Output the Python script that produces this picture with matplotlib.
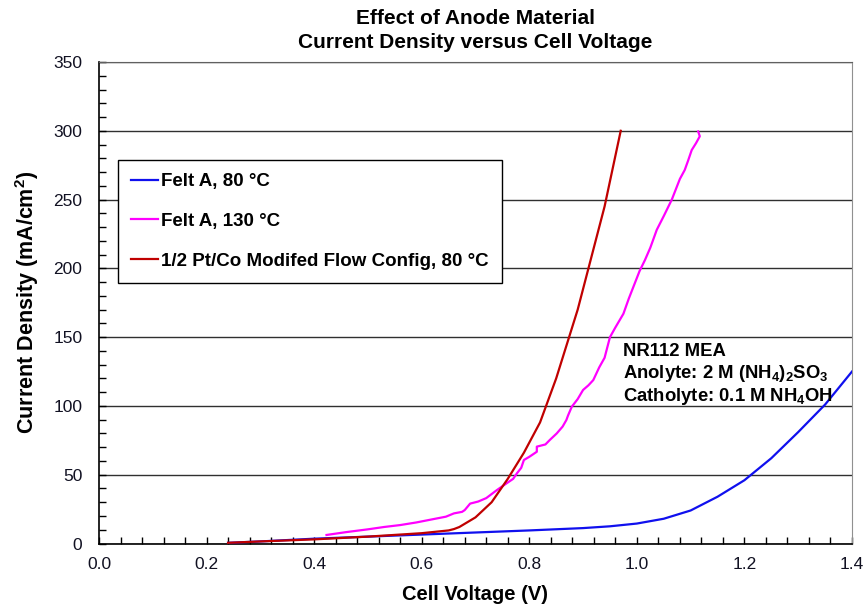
import matplotlib
matplotlib.use("Agg")
import matplotlib.pyplot as plt
from matplotlib.ticker import MultipleLocator

plt.rcParams['font.family'] = ['Liberation Sans', 'DejaVu Sans']
plt.rcParams['mathtext.fontset'] = 'custom'
plt.rcParams['mathtext.rm'] = 'Liberation Sans:bold'
plt.rcParams['mathtext.it'] = 'Liberation Sans:bold'
plt.rcParams['mathtext.bf'] = 'Liberation Sans:bold'

# ---- data ----
blue_v = [0.24, 0.30, 0.40, 0.50, 0.60, 0.70, 0.80, 0.90, 0.95, 1.00, 1.05, 1.10,
          1.15, 1.20, 1.25, 1.30, 1.35, 1.40]
blue_j = [0.5, 1.5, 3.5, 5.0, 6.5, 8.0, 9.5, 11.2, 12.5, 14.5, 18.0, 24.0,
          34.0, 46.0, 62.0, 81.0, 101.0, 125.0]

magenta_v = [0.423, 0.46, 0.50, 0.53, 0.56, 0.59, 0.62, 0.645, 0.66, 0.675, 0.68, 0.69,
             0.705, 0.72, 0.74, 0.758, 0.77, 0.777, 0.785, 0.79, 0.80, 0.814, 0.814,
             0.83, 0.838, 0.851, 0.862, 0.869, 0.872, 0.879, 0.89, 0.900, 0.91, 0.919,
             0.93, 0.94, 0.950, 0.96, 0.975, 0.985, 0.996, 1.005, 1.015, 1.025, 1.037,
             1.05, 1.065, 1.074, 1.08, 1.089, 1.095, 1.102, 1.11, 1.117, 1.114]
magenta_j = [6.2, 8.3, 10.3, 12.0, 13.4, 15.3, 17.6, 19.5, 21.9, 23.0, 24.3, 29.0,
             30.5, 33.0, 38.9, 43.8, 47.0, 51.0, 55.0, 60.7, 63.0, 66.7, 70.4,
             72.0, 75.2, 80.0, 85.0, 89.8, 93.0, 99.4, 105.0, 111.6, 115.0, 118.8,
             128.0, 135.0, 150.0, 157.0, 167.0, 178.0, 189.0, 198.0, 206.0, 215.0, 228.0,
             238.0, 250.0, 259.0, 265.0, 271.5, 278.0, 286.0, 291.0, 296.0, 299.5]

red_v = [0.24, 0.30, 0.40, 0.50, 0.60, 0.65, 0.66, 0.67, 0.70, 0.73, 0.76, 0.79,
         0.82, 0.85, 0.87, 0.89, 0.91, 0.94, 0.97]
red_j = [0.5, 1.5, 3.0, 5.0, 7.5, 9.5, 10.5, 12.0, 19.0, 30.0, 47.0, 66.0,
         88.0, 120.0, 145.0, 170.0, 200.0, 245.0, 300.0]

labels = ['Felt A, 80 °C', 'Felt A, 130 °C', '1/2 Pt/Co Modifed Flow Config, 80 °C']
colors = ['#1010ee', '#ff00ff', '#c00000']

fig = plt.figure(figsize=(8.68, 6.08), dpi=100)
ax = fig.add_axes([99/868, 1-543.5/608, (852-99)/868, (543.5-62)/608])

ax.plot(blue_v, blue_j, color=colors[0], lw=1.6, label=labels[0], zorder=3)
ax.plot(magenta_v, magenta_j, color=colors[1], lw=1.6, label=labels[1], zorder=3)
ax.plot(red_v, red_j, color=colors[2], lw=1.6, label=labels[2], zorder=4)

ax.set_xlim(0, 1.4)
ax.set_ylim(0, 350)
ax.xaxis.set_major_locator(MultipleLocator(0.2))
ax.xaxis.set_minor_locator(MultipleLocator(0.04))
ax.yaxis.set_major_locator(MultipleLocator(50))
ax.yaxis.set_minor_locator(MultipleLocator(10))
ax.xaxis.set_major_formatter(plt.FuncFormatter(lambda v, p: f'{v:.1f}'))
ax.tick_params(which='both', direction='in', length=5, width=1, color='black',
               top=False, right=False, labelsize=12.5, labelcolor='#111122')
ax.tick_params(axis='x', which='major', pad=10)
ax.tick_params(axis='y', which='major', pad=12)

ax.grid(axis='y', which='major', color='#303030', lw=1.0, zorder=1)
ax.spines['left'].set_color('black')
ax.spines['bottom'].set_color('black')
ax.spines['left'].set_linewidth(1.2)
ax.spines['bottom'].set_linewidth(1.2)
ax.spines['top'].set_color('#606060')
ax.spines['right'].set_color('#909090')

ax.set_xlabel('Cell Voltage (V)', fontsize=14.5, fontweight='bold', labelpad=9)
ax.set_ylabel('Current Density (mA/cm$^2$)', fontsize=15.5, fontweight='bold', labelpad=9)

fig.text(475.5/868, 1-18/608, 'Effect of Anode Material', ha='center', va='center',
         fontsize=15, fontweight='bold')
fig.text(475.5/868, 1-43/608, 'Current Density versus Cell Voltage', ha='center', va='center',
         fontsize=15, fontweight='bold')

leg = ax.legend(loc='upper left', bbox_to_anchor=((118-99)/753, (543.5-160)/481.5),
                prop={'weight': 'bold', 'size': 13.5}, frameon=True, fancybox=False,
                handlelength=1.45, handletextpad=0.15, labelspacing=1.2,
                borderpad=0.7, borderaxespad=0)
leg.get_frame().set_edgecolor('black')
leg.get_frame().set_linewidth(1.0)
leg.get_frame().set_alpha(1)

ax.text((623-99)/753, (543.5-375)/481.5, 'NR112 MEA\nAnolyte: 2 M (NH$_4$)$_2$SO$_3$\nCatholyte: 0.1 M NH$_4$OH',
        transform=ax.transAxes, ha='left', va='center', fontsize=13.3, fontweight='bold',
        linespacing=1.15, zorder=5)

fig.savefig('out.png', dpi=100)
